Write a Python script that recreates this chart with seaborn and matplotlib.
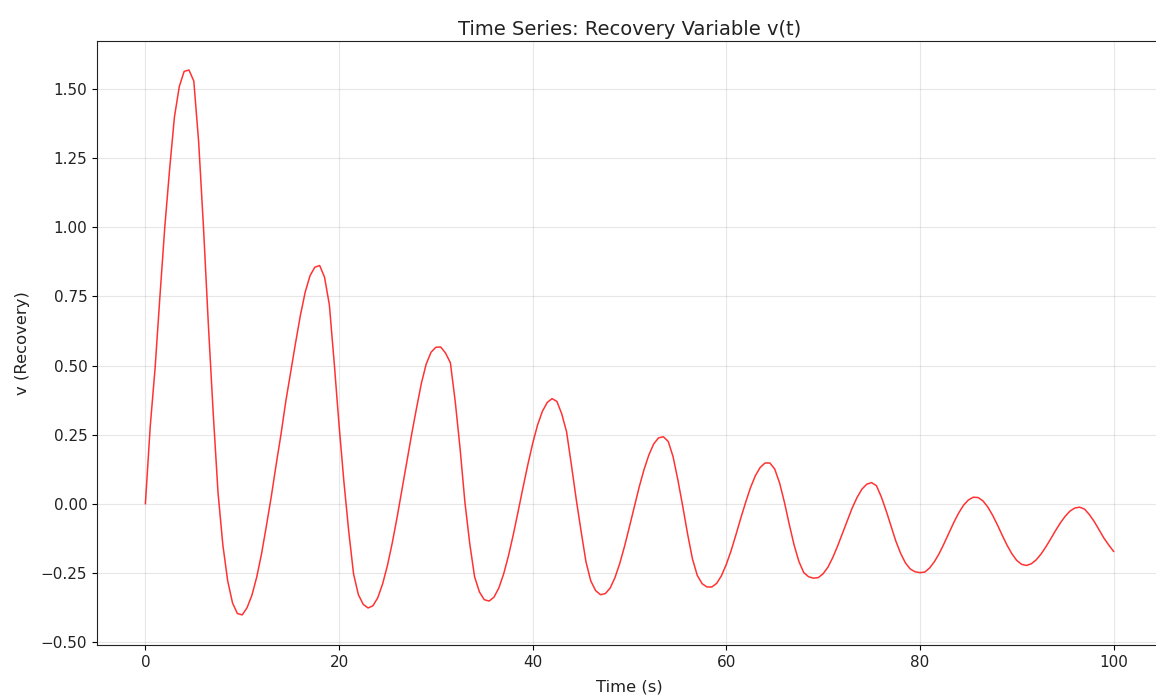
import numpy as np
import pandas as pd
import matplotlib
matplotlib.use("Agg")
import matplotlib.pyplot as plt
import seaborn as sns

time_s = np.arange(0, 100.01, 0.5)

recovery_v = [
    0.00, 0.28, 0.49, 0.75, 1.00, 1.21, 1.40, 1.51, 1.565, 1.57,      # 0 - 4.5
    1.53, 1.31, 1.00, 0.65, 0.33, 0.04, -0.15, -0.28, -0.36, -0.398,  # 5 - 9.5
    -0.403, -0.377, -0.332, -0.266, -0.181, -0.080, 0.025, 0.14, 0.25, 0.37,  # 10 - 14.5
    0.475, 0.58, 0.68, 0.765, 0.825, 0.856, 0.862, 0.82, 0.72, 0.51,  # 15 - 19.5
    0.285, 0.08, -0.10, -0.255, -0.33, -0.365, -0.378, -0.370, -0.341, -0.291,  # 20 - 24.5
    -0.224, -0.142, -0.049, 0.051, 0.152, 0.251, 0.345, 0.435, 0.505, 0.548,  # 25 - 29.5
    0.566, 0.567, 0.545, 0.51, 0.37, 0.20, 0.005, -0.145, -0.265, -0.32,  # 30 - 34.5
    -0.348, -0.353, -0.339, -0.306, -0.255, -0.189, -0.112, -0.028, 0.058, 0.141,  # 35 - 39.5
    0.218, 0.284, 0.334, 0.366, 0.380, 0.37, 0.325, 0.26, 0.14, 0.015,  # 40 - 44.5
    -0.10, -0.21, -0.28, -0.315, -0.33, -0.326, -0.306, -0.268, -0.216, -0.153,  # 45 - 49.5
    -0.083, -0.011, 0.060, 0.123, 0.176, 0.216, 0.238, 0.242, 0.225, 0.17,  # 50 - 54.5
    0.085, -0.01, -0.11, -0.20, -0.26, -0.29, -0.302, -0.302, -0.289, -0.261,  # 55 - 59.5
    -0.220, -0.170, -0.112, -0.052, 0.005, 0.058, 0.101, 0.131, 0.147, 0.147,  # 60 - 64.5
    0.125, 0.075, 0.005, -0.075, -0.15, -0.21, -0.25, -0.265, -0.27, -0.268,  # 65 - 69.5
    -0.254, -0.230, -0.195, -0.153, -0.107, -0.060, -0.016, 0.022, 0.052, 0.070,  # 70 - 74.5
    0.076, 0.065, 0.025, -0.025, -0.08, -0.135, -0.18, -0.215, -0.237, -0.247,  # 75 - 79.5
    -0.25, -0.248, -0.233, -0.210, -0.180, -0.144, -0.106, -0.068, -0.034, -0.006,  # 80 - 84.5
    0.013, 0.023, 0.022, 0.010, -0.012, -0.042, -0.077, -0.115, -0.151, -0.182,  # 85 - 89.5
    -0.206, -0.220, -0.224, -0.218, -0.204, -0.183, -0.157, -0.128, -0.098, -0.070,  # 90 - 94.5
    -0.046, -0.027, -0.016, -0.013, -0.02, -0.04, -0.065, -0.095, -0.125, -0.15,  # 95 - 99.5
    -0.173,  # 100
]

x_ticks = [0, 20, 40, 60, 80, 100]
y_ticks = [-0.50, -0.25, 0.00, 0.25, 0.50, 0.75, 1.00, 1.25, 1.50]

title_text = "Time Series: Recovery Variable v(t)"
x_label = "Time (s)"
y_label = "v (Recovery)"

df = pd.DataFrame({"t": time_s, "v": recovery_v})

plt.rcParams["font.family"] = ["DejaVu Sans"]

fig = plt.figure(figsize=(11.56, 7.0), dpi=100)
ax = fig.add_axes([0.0839, 0.0786, 0.9213, 0.8628])

sns.lineplot(data=df, x="t", y="v", ax=ax, color="red", linewidth=1.1,
             alpha=0.8, sort=False, estimator=None)

ax.set_xlim(-5, 105)
ax.set_ylim(-0.512, 1.675)
ax.set_xticks(x_ticks)
ax.set_yticks(y_ticks)
ax.set_yticklabels([f"{v:.2f}".replace("-", "\u2212") for v in y_ticks])
ax.grid(True, alpha=0.3)
ax.set_title(title_text, fontsize=14, pad=4.5, color="#222222")
ax.set_xlabel(x_label, fontsize=11.8, labelpad=7, color="#222222")
ax.set_ylabel(y_label, fontsize=11.8, labelpad=8, color="#222222")
ax.tick_params(labelsize=11, labelcolor="#222222")
for s in ax.spines.values():
    s.set_color("#222222")

fig.savefig("out.png", dpi=100)
